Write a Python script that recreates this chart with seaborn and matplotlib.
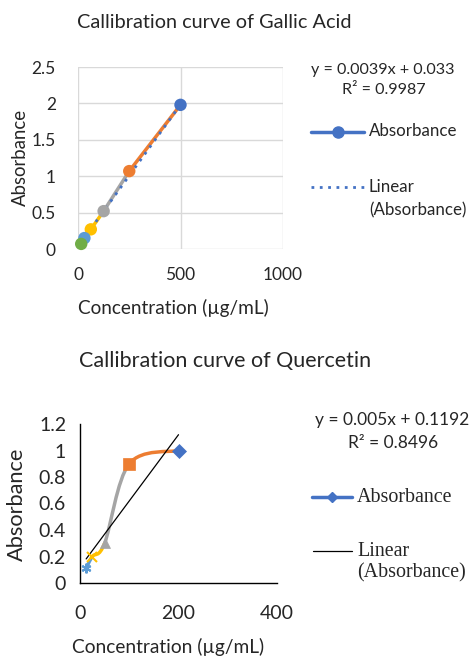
import matplotlib
matplotlib.use("Agg")
import matplotlib.pyplot as plt
from matplotlib.path import Path
from matplotlib.patches import PathPatch
from matplotlib.lines import Line2D
import numpy as np
import pandas as pd
import seaborn as sns

# Gallic acid (entered in descending order, as in the sheet)
gallic_conc = [500, 250, 125, 62.5, 31.25, 15.625]
gallic_abs = [1.98, 1.07, 0.52, 0.27, 0.15, 0.07]
gallic_slope, gallic_icpt, gallic_r2 = 0.0039, 0.033, 0.9987

# Quercetin
quer_conc = [200, 100, 50, 25, 12.5]
quer_abs = [1.0, 0.9, 0.30, 0.20, 0.11]
quer_slope, quer_icpt, quer_r2 = 0.005, 0.1192, 0.8496

xl_colors = ["#4472C4", "#ED7D31", "#A5A5A5", "#FFC000", "#5B9BD5", "#70AD47"]
quer_markers = ["D", "s", "^", "x", (6, 2, 0)]

sns.set_style("white")
plt.rcParams["font.family"] = ["Lato", "DejaVu Sans"]

fig = plt.figure(figsize=(4.69, 6.57), dpi=100)
W, H = 469, 657


def ax_rect(l, t, r, b):
    return [l / W, 1 - b / H, (r - l) / W, (b - t) / H]


def ftext(x, y, s, **kw):
    kw.setdefault("va", "center")
    return fig.text(x / W, 1 - y / H, s, **kw)


# ---------------- Gallic acid ----------------
ax1 = fig.add_axes(ax_rect(78, 67, 283, 249))
gdf = pd.DataFrame({"conc": gallic_conc, "abs": gallic_abs})
for i in range(1, len(gdf)):
    seg = gdf.iloc[i - 1:i + 1]
    sns.lineplot(data=seg, x="conc", y="abs", ax=ax1, color=xl_colors[i],
                 lw=2.5, sort=False, legend=False, zorder=2)
# trend line
tx = np.array([min(gallic_conc), max(gallic_conc)])
ax1.plot(tx, gallic_slope * tx + gallic_icpt, color="#4472C4", lw=2,
         ls=(0, (1, 2)), zorder=3)
sns.scatterplot(data=gdf.assign(idx=range(len(gdf))), x="conc", y="abs",
                hue="idx", palette=xl_colors[:len(gdf)], s=80, ax=ax1,
                legend=False, edgecolor="none", zorder=4, clip_on=False)
ax1.set_xlim(0, 1000)
ax1.set_ylim(0, 2.5)
ax1.set_xticks([0, 500, 1000])
ax1.set_yticks([0, 0.5, 1, 1.5, 2, 2.5])
ax1.set_yticklabels(["0", "0.5", "1", "1.5", "2", "2.5"])
ax1.grid(True, color="#D9D9D9", lw=1)
for s in ax1.spines.values():
    s.set_visible(False)
ax1.tick_params(labelsize=12.5, length=0)
ax1.tick_params(axis="x", pad=13)
ax1.tick_params(axis="y", pad=16)
ax1.set_xlabel("")
ax1.set_ylabel("")
ftext(173, 308, "Concentration (µg/mL)", ha="center", fontsize=13.7)
ftext(20, 157, "Absorbance", ha="center", rotation=90, fontsize=13.4)
ftext(214, 22, "Callibration curve of Gallic Acid", ha="center", fontsize=14.3)
ftext(383, 70, f"y = {gallic_slope}x + {gallic_icpt}", ha="center", fontsize=11.6)
ftext(384, 90, f"R² = {gallic_r2}", ha="center", fontsize=11.6)
fig.add_artist(Line2D([311 / W, 364 / W], [1 - 131.5 / H] * 2, color="#4472C4",
                      lw=2.5, transform=fig.transFigure))
fig.add_artist(Line2D([338 / W], [1 - 131.5 / H], color="#4472C4", marker="o",
                      markersize=8, transform=fig.transFigure))
ftext(369, 131.5, "Absorbance", fontsize=12.2)
fig.add_artist(Line2D([311 / W, 364 / W], [1 - 186.5 / H] * 2, color="#4472C4",
                      lw=2, ls=(0, (1, 2)), transform=fig.transFigure))
ftext(369, 187, "Linear", fontsize=12.2)
ftext(369, 210, "(Absorbance)", fontsize=12.2)

# ---------------- Quercetin ----------------
ax2 = fig.add_axes(ax_rect(80, 424, 277, 583))
qx = np.array(quer_conc, dtype=float)
qy = np.array(quer_abs, dtype=float)
n = len(qx)
for i in range(1, n):
    # smoothed (Bezier) segment from point i-1 to i
    p0 = np.array([qx[max(i - 2, 0)], qy[max(i - 2, 0)]])
    p1 = np.array([qx[i - 1], qy[i - 1]])
    p2 = np.array([qx[i], qy[i]])
    p3 = np.array([qx[min(i + 1, n - 1)], qy[min(i + 1, n - 1)]])
    c1 = p1 + (p2 - p0) / 6
    c2 = p2 - (p3 - p1) / 6
    path = Path([p1, c1, c2, p2], [Path.MOVETO, Path.CURVE4, Path.CURVE4, Path.CURVE4])
    ax2.add_patch(PathPatch(path, fill=False, edgecolor=xl_colors[i], lw=2.5, zorder=2))
tq = np.array([min(quer_conc), max(quer_conc)])
ax2.plot(tq, quer_slope * tq + quer_icpt, color="black", lw=0.9, zorder=3)
for i in range(n):
    m = quer_markers[i]
    filled = m != "x" and not isinstance(m, tuple)
    ax2.plot(qx[i], qy[i], marker=m, color=xl_colors[i], markersize=8 if m == "s" else 7,
             markeredgewidth=0.5 if filled else 1.5, zorder=4, ls="none", clip_on=False)
ax2.set_xlim(0, 400)
ax2.set_ylim(0, 1.2)
ax2.set_xticks([0, 200, 400])
ax2.set_xticks(np.arange(0, 401, 40), minor=True)
ax2.set_yticks([0, 0.2, 0.4, 0.6, 0.8, 1.0, 1.2])
ax2.set_yticklabels(["0", "0.2", "0.4", "0.6", "0.8", "1", "1.2"])
ax2.set_yticks(np.arange(0, 1.201, 0.04), minor=True)
for s in ["top", "right"]:
    ax2.spines[s].set_visible(False)
for s in ["left", "bottom"]:
    ax2.spines[s].set_color("black")
    ax2.spines[s].set_linewidth(1)
ax2.tick_params(which="both", direction="inout", length=8, width=1, color="black")
ax2.tick_params(axis="x", which="major", labelsize=14, pad=12)
ax2.tick_params(axis="y", which="major", labelsize=14, pad=6)
ftext(168, 647, "Concentration (µg/mL)", ha="center", fontsize=13.8)
ftext(17, 504, "Absorbance", ha="center", rotation=90, fontsize=15.7)
ftext(225, 361, "Callibration curve of Quercetin", ha="center", fontsize=15.5)
ftext(392, 420, f"y = {quer_slope}x + {quer_icpt}", ha="center", fontsize=12.5)
ftext(393, 443, f"R² = {quer_r2}", ha="center", fontsize=12.5)
fig.add_artist(Line2D([312 / W, 352 / W], [1 - 497 / H] * 2, color="#4472C4",
                      lw=2.5, transform=fig.transFigure))
fig.add_artist(Line2D([332 / W], [1 - 497 / H], color="#4472C4", marker="D",
                      markersize=5, transform=fig.transFigure))
ftext(357, 497, "Absorbance", fontsize=14.4, family="Liberation Serif")
fig.add_artist(Line2D([313 / W, 352 / W], [1 - 551 / H] * 2, color="black",
                      lw=0.9, transform=fig.transFigure))
ftext(357, 551, "Linear", fontsize=14.4, family="Liberation Serif")
ftext(357, 573, "(Absorbance)", fontsize=14.4, family="Liberation Serif")

fig.savefig("out.png", dpi=100)
